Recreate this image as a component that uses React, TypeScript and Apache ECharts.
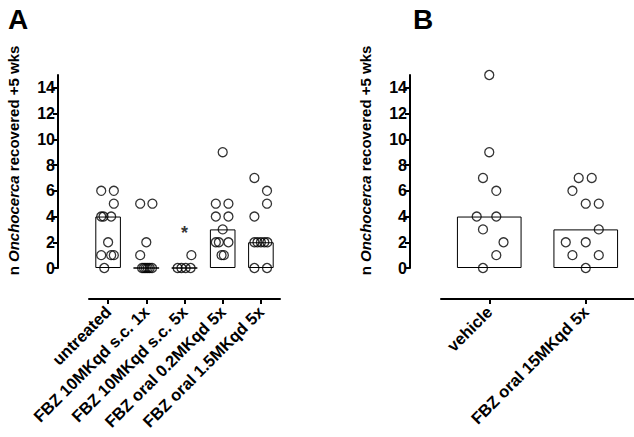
import React, { useEffect, useRef } from "react";
import * as echarts from "echarts";

// ---- Data ----
const categoriesA = [
  "untreated",
  "FBZ 10MKqd s.c. 1x",
  "FBZ 10MKqd s.c. 5x",
  "FBZ oral 0.2MKqd 5x",
  "FBZ oral 1.5MKqd 5x",
];
const categoriesB = ["vehicle", "FBZ oral 15MKqd 5x"];

// medians (bar heights)
const mediansA = [4, 0, 0, 3, 2];
const mediansB = [4, 3];

// individual animals (values) and horizontal jitter (fraction of category width)
const untreatedVals = [6, 6, 5, 4, 4, 4, 2, 1, 1, 1, 0];
const untreatedJit = [-0.18, 0.15, 0.15, -0.18, -0.12, 0.08, 0, -0.18, 0.08, 0.15, -0.1];
const sc1xVals = [5, 5, 2, 1, 0, 0, 0, 0, 0, 0];
const sc1xJit = [-0.16, 0.16, 0, -0.16, -0.11, -0.06, -0.01, 0.04, 0.09, 0.15];
const sc5xVals = [1, 0, 0, 0, 0];
const sc5xJit = [0.18, -0.18, -0.08, 0.03, 0.16];
const oral02Vals = [9, 5, 5, 4, 4, 3, 2, 2, 2, 1, 1];
const oral02Jit = [0, -0.18, 0.15, -0.18, 0.15, 0, -0.18, -0.1, 0.15, -0.03, 0.03];
const oral15Vals = [7, 6, 5, 4, 2, 2, 2, 2, 2, 0, 0];
const oral15Jit = [-0.17, 0.16, 0.16, -0.17, -0.17, -0.09, 0, 0.09, 0.17, -0.17, 0.16];

const vehicleVals = [15, 9, 7, 6, 4, 4, 3, 2, 1, 0];
const vehicleJit = [0, 0, -0.065, 0.073, -0.13, 0.073, -0.065, 0.148, 0.073, -0.065];
const oral15BVals = [7, 7, 6, 5, 5, 3, 2, 2, 1, 1, 0];
const oral15BJit = [-0.073, 0.062, -0.138, 0, 0.135, 0.135, -0.207, 0, -0.138, 0.135, 0];

// significance marker: [category index, y value]
const starA: [number, number][] = [[2, 3]];

const yTicks = [0, 2, 4, 6, 8, 10, 12, 14];
const yMax = 15;

const groupsA = [
  [untreatedVals, untreatedJit],
  [sc1xVals, sc1xJit],
  [sc5xVals, sc5xJit],
  [oral02Vals, oral02Jit],
  [oral15Vals, oral15Jit],
];
const groupsB = [
  [vehicleVals, vehicleJit],
  [oral15BVals, oral15BJit],
];

function toPoints(groups: number[][][]) {
  const pts: number[][] = [];
  groups.forEach(([vals, jit], i) => {
    vals.forEach((v, k) => pts.push([i + jit[k], v]));
  });
  return pts;
}

const FONT = "Liberation Sans, Arial, sans-serif";

export default function App() {
  const ref = useRef<HTMLDivElement>(null);
  useEffect(() => {
    if (!ref.current) return;
    const chart = echarts.init(ref.current, undefined, { renderer: "svg" });

    const yAxisCommon = (gridIndex: number) => ({
      type: "value" as const,
      gridIndex,
      min: 0,
      max: yMax,
      offset: 31,
      name: "n {i|Onchocerca} recovered +5 wks",
      nameLocation: "middle" as const,
      nameGap: 37,
      nameTextStyle: {
        fontFamily: FONT,
        fontSize: 15,
        fontWeight: "bold" as const,
        color: "#000",
        padding: [0, 0, 0, 22],
        rich: {
          i: {
            fontFamily: FONT,
            fontSize: 15,
            fontWeight: "bold" as const,
            fontStyle: "italic" as const,
            color: "#000",
          },
        },
      },
      axisLine: { show: true, onZero: false, lineStyle: { color: "#000", width: 2 } },
      axisTick: { show: true, length: 5, lineStyle: { color: "#000", width: 2 }, customValues: yTicks },
      axisLabel: {
        fontFamily: FONT,
        fontSize: 16,
        fontWeight: "bold" as const,
        color: "#000",
        margin: 3,
        customValues: yTicks,
      },
      splitLine: { show: false },
    });

    const xCatCommon = (gridIndex: number, data: string[]) => ({
      type: "category" as const,
      gridIndex,
      data,
      offset: 31,
      axisLine: { show: true, onZero: false, lineStyle: { color: "#000", width: 2 } },
      axisTick: { show: true, alignWithLabel: true, length: 5, lineStyle: { color: "#000", width: 2 } },
      axisLabel: {
        interval: 0,
        rotate: 45,
        margin: 10,
        fontFamily: FONT,
        fontSize: 16.5,
        fontWeight: "bold" as const,
        color: "#000",
      },
    });

    const scatterStyle = {
      color: "rgba(255,255,255,0)",
      borderColor: "#000",
      borderWidth: 1.3,
    };

    chart.setOption({
      animation: false,
      backgroundColor: "#fff",
      title: [
        { text: "A", left: 3, top: 0, textStyle: { fontFamily: FONT, fontSize: 28, fontWeight: "bold", color: "#000" } },
        { text: "B", left: 408, top: 0, textStyle: { fontFamily: FONT, fontSize: 28, fontWeight: "bold", color: "#000" } },
      ],
      grid: [
        { left: 89, width: 191, top: 75, bottom: 169 },
        { left: 441, width: 193, top: 75, bottom: 169 },
      ],
      xAxis: [
        xCatCommon(0, categoriesA),
        { type: "value", gridIndex: 0, min: -0.5, max: categoriesA.length - 0.5, show: false },
        xCatCommon(1, categoriesB),
        { type: "value", gridIndex: 1, min: -0.5, max: categoriesB.length - 0.5, show: false },
      ],
      yAxis: [yAxisCommon(0), yAxisCommon(1)],
      series: [
        {
          type: "bar",
          xAxisIndex: 0,
          yAxisIndex: 0,
          data: mediansA,
          barWidth: "67%",
          itemStyle: { color: "#fff", borderColor: "#000", borderWidth: 1 },
        },
        {
          type: "bar",
          xAxisIndex: 2,
          yAxisIndex: 1,
          data: mediansB,
          barWidth: "67%",
          itemStyle: { color: "#fff", borderColor: "#000", borderWidth: 1 },
        },
        {
          type: "scatter",
          xAxisIndex: 1,
          yAxisIndex: 0,
          symbol: "circle",
          symbolSize: 9,
          data: toPoints(groupsA as any),
          itemStyle: scatterStyle,
          z: 3,
        },
        {
          type: "scatter",
          xAxisIndex: 3,
          yAxisIndex: 1,
          symbol: "circle",
          symbolSize: 9,
          data: toPoints(groupsB as any),
          itemStyle: scatterStyle,
          z: 3,
        },
        {
          type: "scatter",
          xAxisIndex: 1,
          yAxisIndex: 0,
          symbolSize: 0,
          data: starA,
          itemStyle: { color: "rgba(0,0,0,0)" },
          label: {
            show: true,
            position: "inside",
            formatter: "*",
            fontFamily: FONT,
            fontSize: 18,
            fontWeight: "bold",
            color: "#000",
            offset: [0, 4],
          },
        },
      ],
    });
    return () => chart.dispose();
  }, []);
  return (
    <div
      ref={ref}
      style={{ position: "absolute", left: 0, top: 0, width: 634, height: 437, background: "#fff" }}
    />
  );
}
